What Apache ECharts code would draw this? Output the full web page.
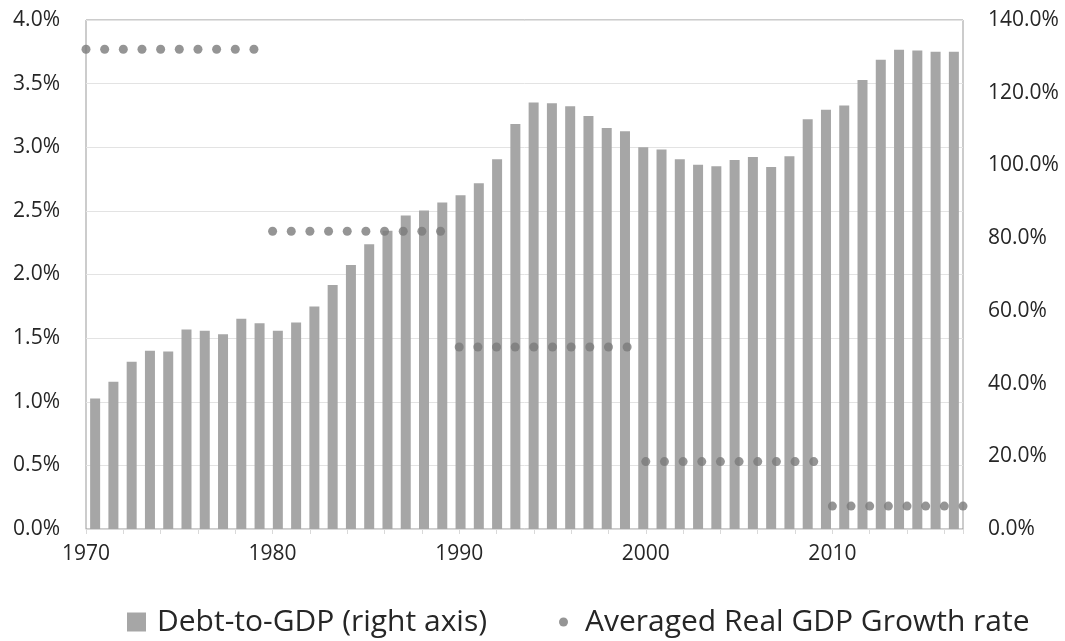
<!DOCTYPE html>
<html>
<head>
<meta charset="utf-8">
<script src="https://cdn.jsdelivr.net/npm/echarts@6/dist/echarts.min.js"></script>
<style>
  html, body { margin: 0; padding: 0; background: #ffffff; }
  #chart { width: 1065px; height: 641px; }
</style>
</head>
<body>
<div id="chart"></div>
<script>
// Years (categories)
const years = [1970,1971,1972,1973,1974,1975,1976,1977,1978,1979,
               1980,1981,1982,1983,1984,1985,1986,1987,1988,1989,
               1990,1991,1992,1993,1994,1995,1996,1997,1998,1999,
               2000,2001,2002,2003,2004,2005,2006,2007,2008,2009,
               2010,2011,2012,2013,2014,2015,2016,2017];

// Debt-to-GDP (%) – right axis
const debtToGdp = [35.9,40.5,46.0,49.0,48.8,54.9,54.5,53.6,57.8,56.6,
                   54.5,56.8,61.2,67.1,72.6,78.3,82.0,86.2,87.6,89.8,
                   91.8,95.1,101.7,111.4,117.3,117.1,116.3,113.6,110.3,109.4,
                   105.0,104.4,101.7,100.2,99.8,101.5,102.3,99.6,102.5,112.7,
                   115.3,116.5,123.5,129.1,131.8,131.6,131.3,131.3];

// Averaged real GDP growth rate (%) – left axis
const growthRate = [3.77,3.77,3.77,3.77,3.77,3.77,3.77,3.77,3.77,3.77,
                    2.34,2.34,2.34,2.34,2.34,2.34,2.34,2.34,2.34,2.34,
                    1.43,1.43,1.43,1.43,1.43,1.43,1.43,1.43,1.43,1.43,
                    0.53,0.53,0.53,0.53,0.53,0.53,0.53,0.53,0.53,0.53,
                    0.18,0.18,0.18,0.18,0.18,0.18,0.18,0.18];

const debtName = 'Debt-to-GDP (right axis)';
const growthName = 'Averaged Real GDP Growth rate';

const FONT = '"Open Sans", "Noto Sans", sans-serif';
const TXT = '#262626';

const chart = echarts.init(document.getElementById('chart'), null, { renderer: 'canvas' });

chart.setOption({
  backgroundColor: '#ffffff',
  animation: false,
  textStyle: { fontFamily: FONT },
  grid: {
    left: 86, right: 102, top: 20, bottom: 112,
    show: true, borderColor: '#999999', borderWidth: 1
  },
  legend: [
    {
      data: [debtName],
      left: 122, top: 602,
      icon: 'rect', itemWidth: 19, itemHeight: 19,
      textStyle: { fontFamily: FONT, fontSize: 30, color: TXT, padding: [0, 0, 0, 6] }
    },
    {
      data: [growthName],
      left: 554, top: 602,
      icon: 'circle', itemWidth: 9, itemHeight: 9,
      textStyle: { fontFamily: FONT, fontSize: 30, color: TXT, padding: [0, 0, 0, 12] }
    }
  ],
  xAxis: [
    {
      type: 'category',
      data: years.map(String),
      boundaryGap: true,
      show: false
    },
    {
      type: 'value',
      min: 1970, max: 2017, interval: 2,
      position: 'bottom',
      axisLine: { show: true, lineStyle: { color: '#d9d9d9', width: 1 } },
      axisTick: { show: true, length: 5, lineStyle: { color: '#d9d9d9' } },
      splitLine: { show: false },
      axisLabel: {
        margin: 15,
        fontFamily: FONT, fontSize: 21, color: TXT,
        showMaxLabel: true, showMinLabel: true,
        formatter: function (v) { return v % 10 === 0 ? String(v) : ''; }
      }
    }
  ],
  yAxis: [
    {
      type: 'value',
      min: 0, max: 4, interval: 0.5,
      position: 'left',
      axisLine: { show: false },
      axisTick: { show: false },
      splitLine: { show: true, lineStyle: { color: '#e3e3e3', width: 1 } },
      axisLabel: {
        margin: 26,
        fontFamily: FONT, fontSize: 21, color: TXT,
        formatter: function (v) { return v.toFixed(1) + '%'; }
      }
    },
    {
      type: 'value',
      min: 0, max: 140, interval: 20,
      position: 'right',
      axisLine: { show: false },
      axisTick: { show: false },
      splitLine: { show: false },
      axisLabel: {
        margin: 25,
        fontFamily: FONT, fontSize: 21, color: TXT,
        formatter: function (v) { return v.toFixed(1) + '%'; }
      }
    }
  ],
  series: [
    {
      name: debtName,
      type: 'bar',
      xAxisIndex: 0,
      yAxisIndex: 1,
      data: debtToGdp,
      barWidth: 10,
      itemStyle: { color: '#a6a6a6' },
      z: 2
    },
    {
      name: growthName,
      type: 'scatter',
      xAxisIndex: 1,
      yAxisIndex: 0,
      data: years.map(function (y, i) { return [y, growthRate[i]]; }),
      symbol: 'circle',
      symbolSize: 9,
      itemStyle: { color: '#7a7a7a' },
      z: 3
    }
  ]
});
</script>
</body>
</html>
